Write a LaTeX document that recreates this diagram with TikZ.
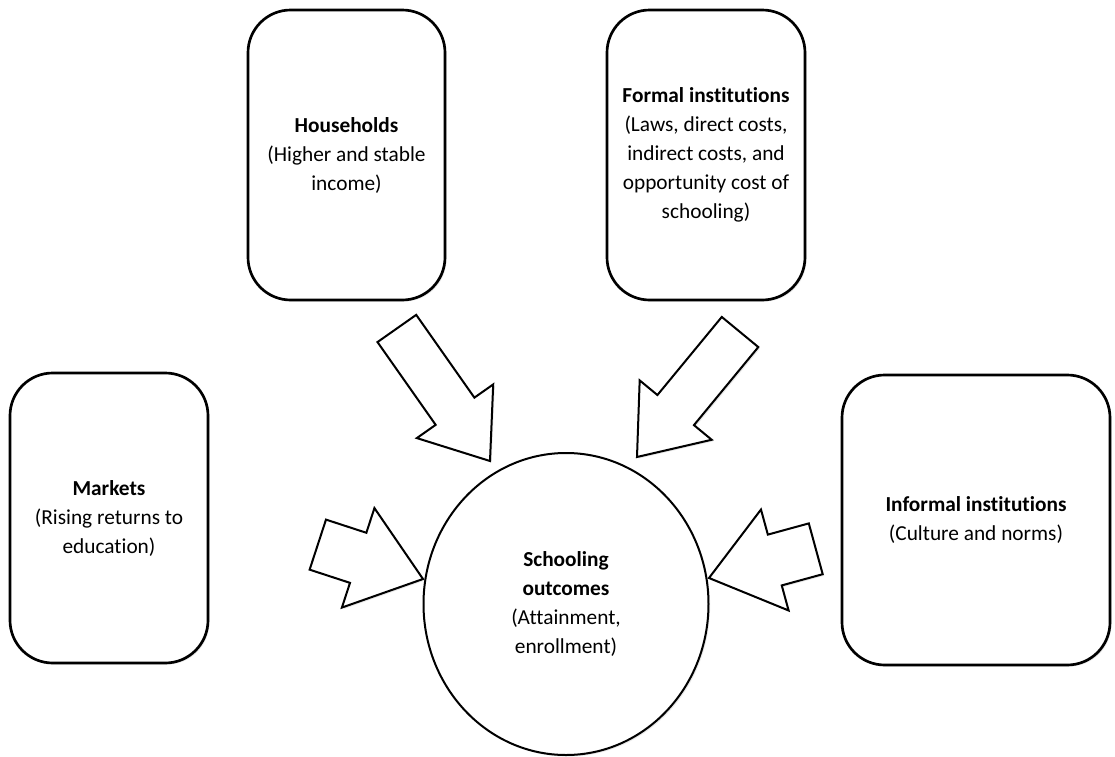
\documentclass[tikz,border=0pt]{standalone}
\usepackage{fontspec}
\setmainfont{Carlito}[Ligatures={NoCommon}]
\usepackage{tikz}
\usetikzlibrary{shapes.geometric,shapes.arrows,shadows}

\begin{document}
\begin{tikzpicture}[
  x=0.75pt,y=-0.75pt,
  soft/.style={drop shadow={opacity=0.18,shadow xshift=1.2pt,shadow yshift=-1.2pt}},
  box/.style={rectangle,draw,line width=2pt,rounded corners=32pt,fill=white,
              minimum height=217.5pt,align=center,soft,
              font=\fontsize{16}{21.75}\selectfont},
  outcome/.style={ellipse,draw,line width=1.5pt,fill=white,align=center,soft,
                  minimum width=213.75pt,minimum height=226.5pt,
                  font=\fontsize{16}{21.75}\selectfont},
  blockarrow/.style={single arrow,draw,line width=1.5pt,fill=white,soft,
                     single arrow tip angle=75,minimum width=0pt,
                     inner xsep=0pt,outer sep=0pt,anchor=tip},
  diag/.style={blockarrow,minimum height=121.5pt,inner ysep=17pt,
               single arrow head extend=17.25pt},
  side/.style={blockarrow,minimum height=83pt,inner ysep=19pt,
               single arrow head extend=19.5pt}
]
\useasboundingbox (0,0) rectangle (1115,757);

\node[box,minimum width=147.75pt] (households) at (346.5,155)
  {\textbf{Households}\\(Higher and stable\\income)};

\node[box,minimum width=148.5pt] (formal) at (706,155)
  {\textbf{Formal institutions}\\(Laws, direct costs,\\indirect costs, and\\opportunity cost of\\schooling)};

\node[box,minimum width=148.5pt] (markets) at (109,518)
  {\textbf{Markets}\\(Rising returns to\\education)};

\node[box,minimum width=201pt] (informal) at (976,520)
  {\textbf{Informal institutions}\\(Culture and norms)};

\node[outcome] (schooling) at (566,604)
  {\textbf{Schooling}\\\textbf{outcomes}\\(Attainment,\\enrollment)};

% block arrows pointing at the outcome
\node[diag,rotate=-54.9] (harrow) at (490,461) {};
\node[diag,rotate=-129.5] (farrow) at (637,457) {};
\node[side,rotate=-18.1] (marrow) at (423,579) {};
\node[side,rotate=-164.7] (iarrow) at (709,578) {};

\end{tikzpicture}
\end{document}
